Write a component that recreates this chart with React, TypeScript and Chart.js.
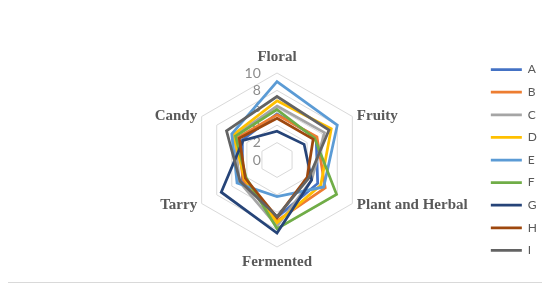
import React, { useEffect, useRef } from "react";
import { Chart, registerables } from "chart.js";

Chart.register(...registerables);

const categories = ["Floral", "Fruity", "Plant and Herbal", "Fermented", "Tarry", "Candy"];
const seriesNames = ["A", "B", "C", "D", "E", "F", "G", "H", "I"];

const seriesA = [5.3, 5.2, 5.4, 6.6, 4.6, 4.6];
const seriesB = [5.2, 5.3, 6.4, 7.0, 4.5, 5.2];
const seriesC = [6.2, 6.3, 4.6, 7.6, 5.0, 5.6];
const seriesD = [6.8, 7.2, 5.8, 7.2, 4.3, 5.8];
const seriesE = [9.0, 8.0, 6.2, 4.2, 5.3, 6.0];
const seriesF = [5.8, 5.0, 7.9, 7.9, 4.1, 5.5];
const seriesG = [3.3, 3.6, 4.6, 8.4, 7.4, 4.5];
const seriesH = [4.8, 4.8, 4.0, 6.6, 4.2, 5.0];
const seriesI = [7.3, 6.9, 4.2, 6.5, 4.9, 6.7];

const seriesValues = [seriesA, seriesB, seriesC, seriesD, seriesE, seriesF, seriesG, seriesH, seriesI];
const seriesColors = ["#4472C4", "#ED7D31", "#A5A5A5", "#FFC000", "#5B9BD5", "#70AD47", "#264478", "#9E480E", "#636363"];

const scaleMin = 0;
const scaleMax = 10;
const scaleStep = 2;

const FIG = "\u2007";

export default function App() {
  const canvasRef = useRef<HTMLCanvasElement>(null);

  useEffect(() => {
    if (!canvasRef.current) return;

    const framePlugin = {
      id: "frame",
      beforeDraw(chart: any) {
        const ctx = chart.ctx;
        ctx.save();
        ctx.fillStyle = "#ffffff";
        ctx.fillRect(0, 0, chart.width, chart.height);
        ctx.strokeStyle = "#d9d9d9";
        ctx.lineWidth = 1;
        ctx.strokeRect(0.5, 0.5, 536, 276);
        ctx.restore();
      },
    };

    const axisNamePlugin = {
      id: "axisNames",
      afterDraw(chart: any) {
        const s = chart.scales.r;
        const ctx = chart.ctx;
        ctx.save();
        ctx.font = 'bold 15px "Liberation Serif"';
        ctx.fillStyle = "#595959";
        ctx.textBaseline = "middle";
        categories.forEach((name, i) => {
          const a = s.getIndexAngle(i);
          const sx = Math.sin(a);
          const cy = Math.cos(a);
          const p = s.getPointPosition(i, s.drawingArea);
          let x = p.x;
          let y = p.y;
          if (Math.abs(sx) < 0.1) {
            ctx.textAlign = "center";
            y += cy > 0 ? -15.5 : 15.5;
          } else {
            ctx.textAlign = sx > 0 ? "left" : "right";
            x += sx > 0 ? 4.5 : -4.5;
            y += cy < 0 ? 2 : 0;
          }
          ctx.fillText(name, x, y);
        });
        ctx.restore();
      },
    };

    const chart = new Chart(canvasRef.current, {
      type: "radar",
      data: {
        labels: categories,
        datasets: seriesNames.map((name, i) => ({
          label: name,
          data: seriesValues[i],
          borderColor: seriesColors[i],
          backgroundColor: seriesColors[i],
          borderWidth: 2.75,
          pointRadius: 0,
          pointHoverRadius: 0,
          fill: false,
          order: seriesNames.length - i,
        })),
      },
      options: {
        animation: false,
        responsive: false,
        layout: { padding: { left: 67, right: 0, top: 32, bottom: 1 } },
        plugins: {
          tooltip: { enabled: false },
          legend: {
            position: "right",
            align: "center",
            labels: {
              usePointStyle: true,
              pointStyle: "line",
              pointStyleWidth: 31,
              padding: 10.6,
              color: "#595959",
              font: { family: "Lato", size: 12 },
              sort: (a: any, b: any) => a.datasetIndex - b.datasetIndex,
            },
          },
        },
        scales: {
          r: {
            min: scaleMin - 0.0001,
            max: scaleMax,
            angleLines: { display: false },
            grid: { color: "#d9d9d9", lineWidth: 1 },
            pointLabels: { display: false },
            ticks: {
              stepSize: scaleStep,
              color: "#8c8c8c",
              font: { family: "Lato", size: 14 },
              showLabelBackdrop: false,
              backdropPadding: 28,
              callback: (v: any) => {
                const s = String(Math.round(Number(v)));
                return (s.length < 2 ? FIG : "") + s + FIG.repeat(6);
              },
            },
          },
        },
      },
      plugins: [framePlugin, axisNamePlugin],
    });

    return () => chart.destroy();
  }, []);

  return (
    <div style={{ width: 540, height: 277, marginTop: -2, marginLeft: -1 }}>
      <canvas ref={canvasRef} width={540} height={277} style={{ display: "block" }} />
    </div>
  );
}
